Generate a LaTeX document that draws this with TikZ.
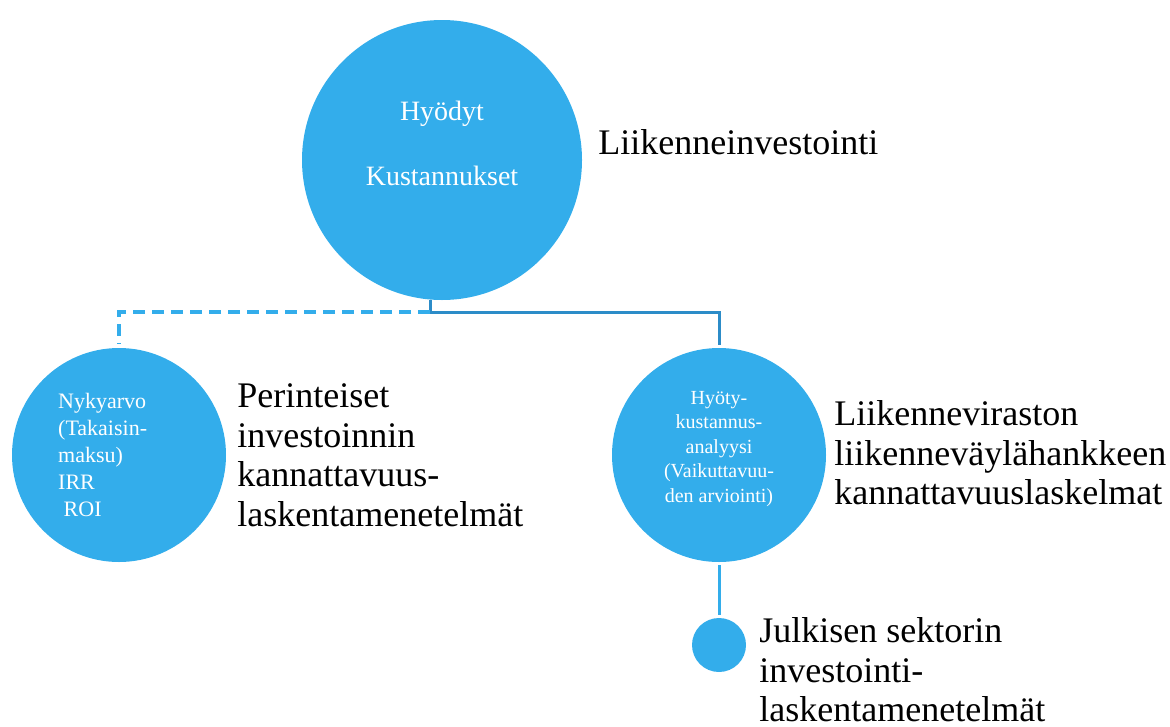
\documentclass[tikz,border=0pt]{standalone}
\usepackage{fontspec}
\setmainfont{Liberation Serif}
\usepackage{tikz}
\usetikzlibrary{positioning, calc}
\definecolor{ballblue}{RGB}{51,173,235}
\definecolor{linkblue}{RGB}{44,140,200}
\tikzstyle{Ball} = [circle, fill=ballblue, inner sep=0pt]
\tikzstyle{Inside} = [text=white, inner sep=0pt]
\tikzstyle{Label} = [inner sep=0pt, align=left,
font=\fontsize{36}{39.5}\selectfont]
\tikzstyle{Link} = [linkblue, line width=3pt]
\tikzstyle{DashLink} = [ballblue, line width=3.5pt,
dash pattern=on 12pt off 7pt]

\begin{document}
\begin{tikzpicture}[x=1pt, y=-1pt]
    \useasboundingbox (0,0) rectangle (1170,726);

    \node [Ball, minimum size=280pt] (1) at (442,160) {};
    \node [Ball, minimum size=214pt] (2) at (119,455) {};
    \node [Ball, minimum size=214pt] (3) at (719,455) {};
    \node [Ball, minimum size=54pt] (4) at (719,645) {};

    \node [Inside, align=center, font=\fontsize{28}{32.5}\selectfont]
        (1t) at ([yshift=17pt]1.center) {Hyödyt\\[32.5pt]Kustannukset};
    \node [Inside, align=left, anchor=west, font=\fontsize{22}{27}\selectfont]
        (2t) at ([xshift=-61pt]2.center) {Nykyarvo\\(Takaisin-\\maksu)\\IRR\\~ROI};
    \node [Inside, align=center, font=\fontsize{20}{24.5}\selectfont]
        (3t) at ([yshift=6pt]3.center) {Hyöty-\\kustannus-\\analyysi\\(Vaikuttavuu-\\den arviointi)};

    \node [Label, right=16pt of 1, yshift=18pt] (1l) {Liikenneinvestointi};
    \node [Label, right=11pt of 2] (2l) {Perinteiset\\investoinnin\\kannattavuus-\\laskentamenetelmät};
    \node [Label, right=8pt of 3, yshift=2pt] (3l) {Liikenneviraston\\liikenneväylähankkeen\\kannattavuuslaskelmat};
    \node [Label, right=13pt of 4, yshift=-25pt] (4l) {Julkisen sektorin\\investointi-\\laskentamenetelmät};

    \coordinate (j) at (430,312);
    \draw [Link, shorten >=3pt] (j |- 1.south) -- (j) -| (3.north);
    \draw [DashLink, shorten >=4pt] (j) -| (2.north);
    \draw [Link, ballblue, shorten <=3pt, shorten >=3pt] (3.south) -- (4.north);
\end{tikzpicture}
\end{document}
